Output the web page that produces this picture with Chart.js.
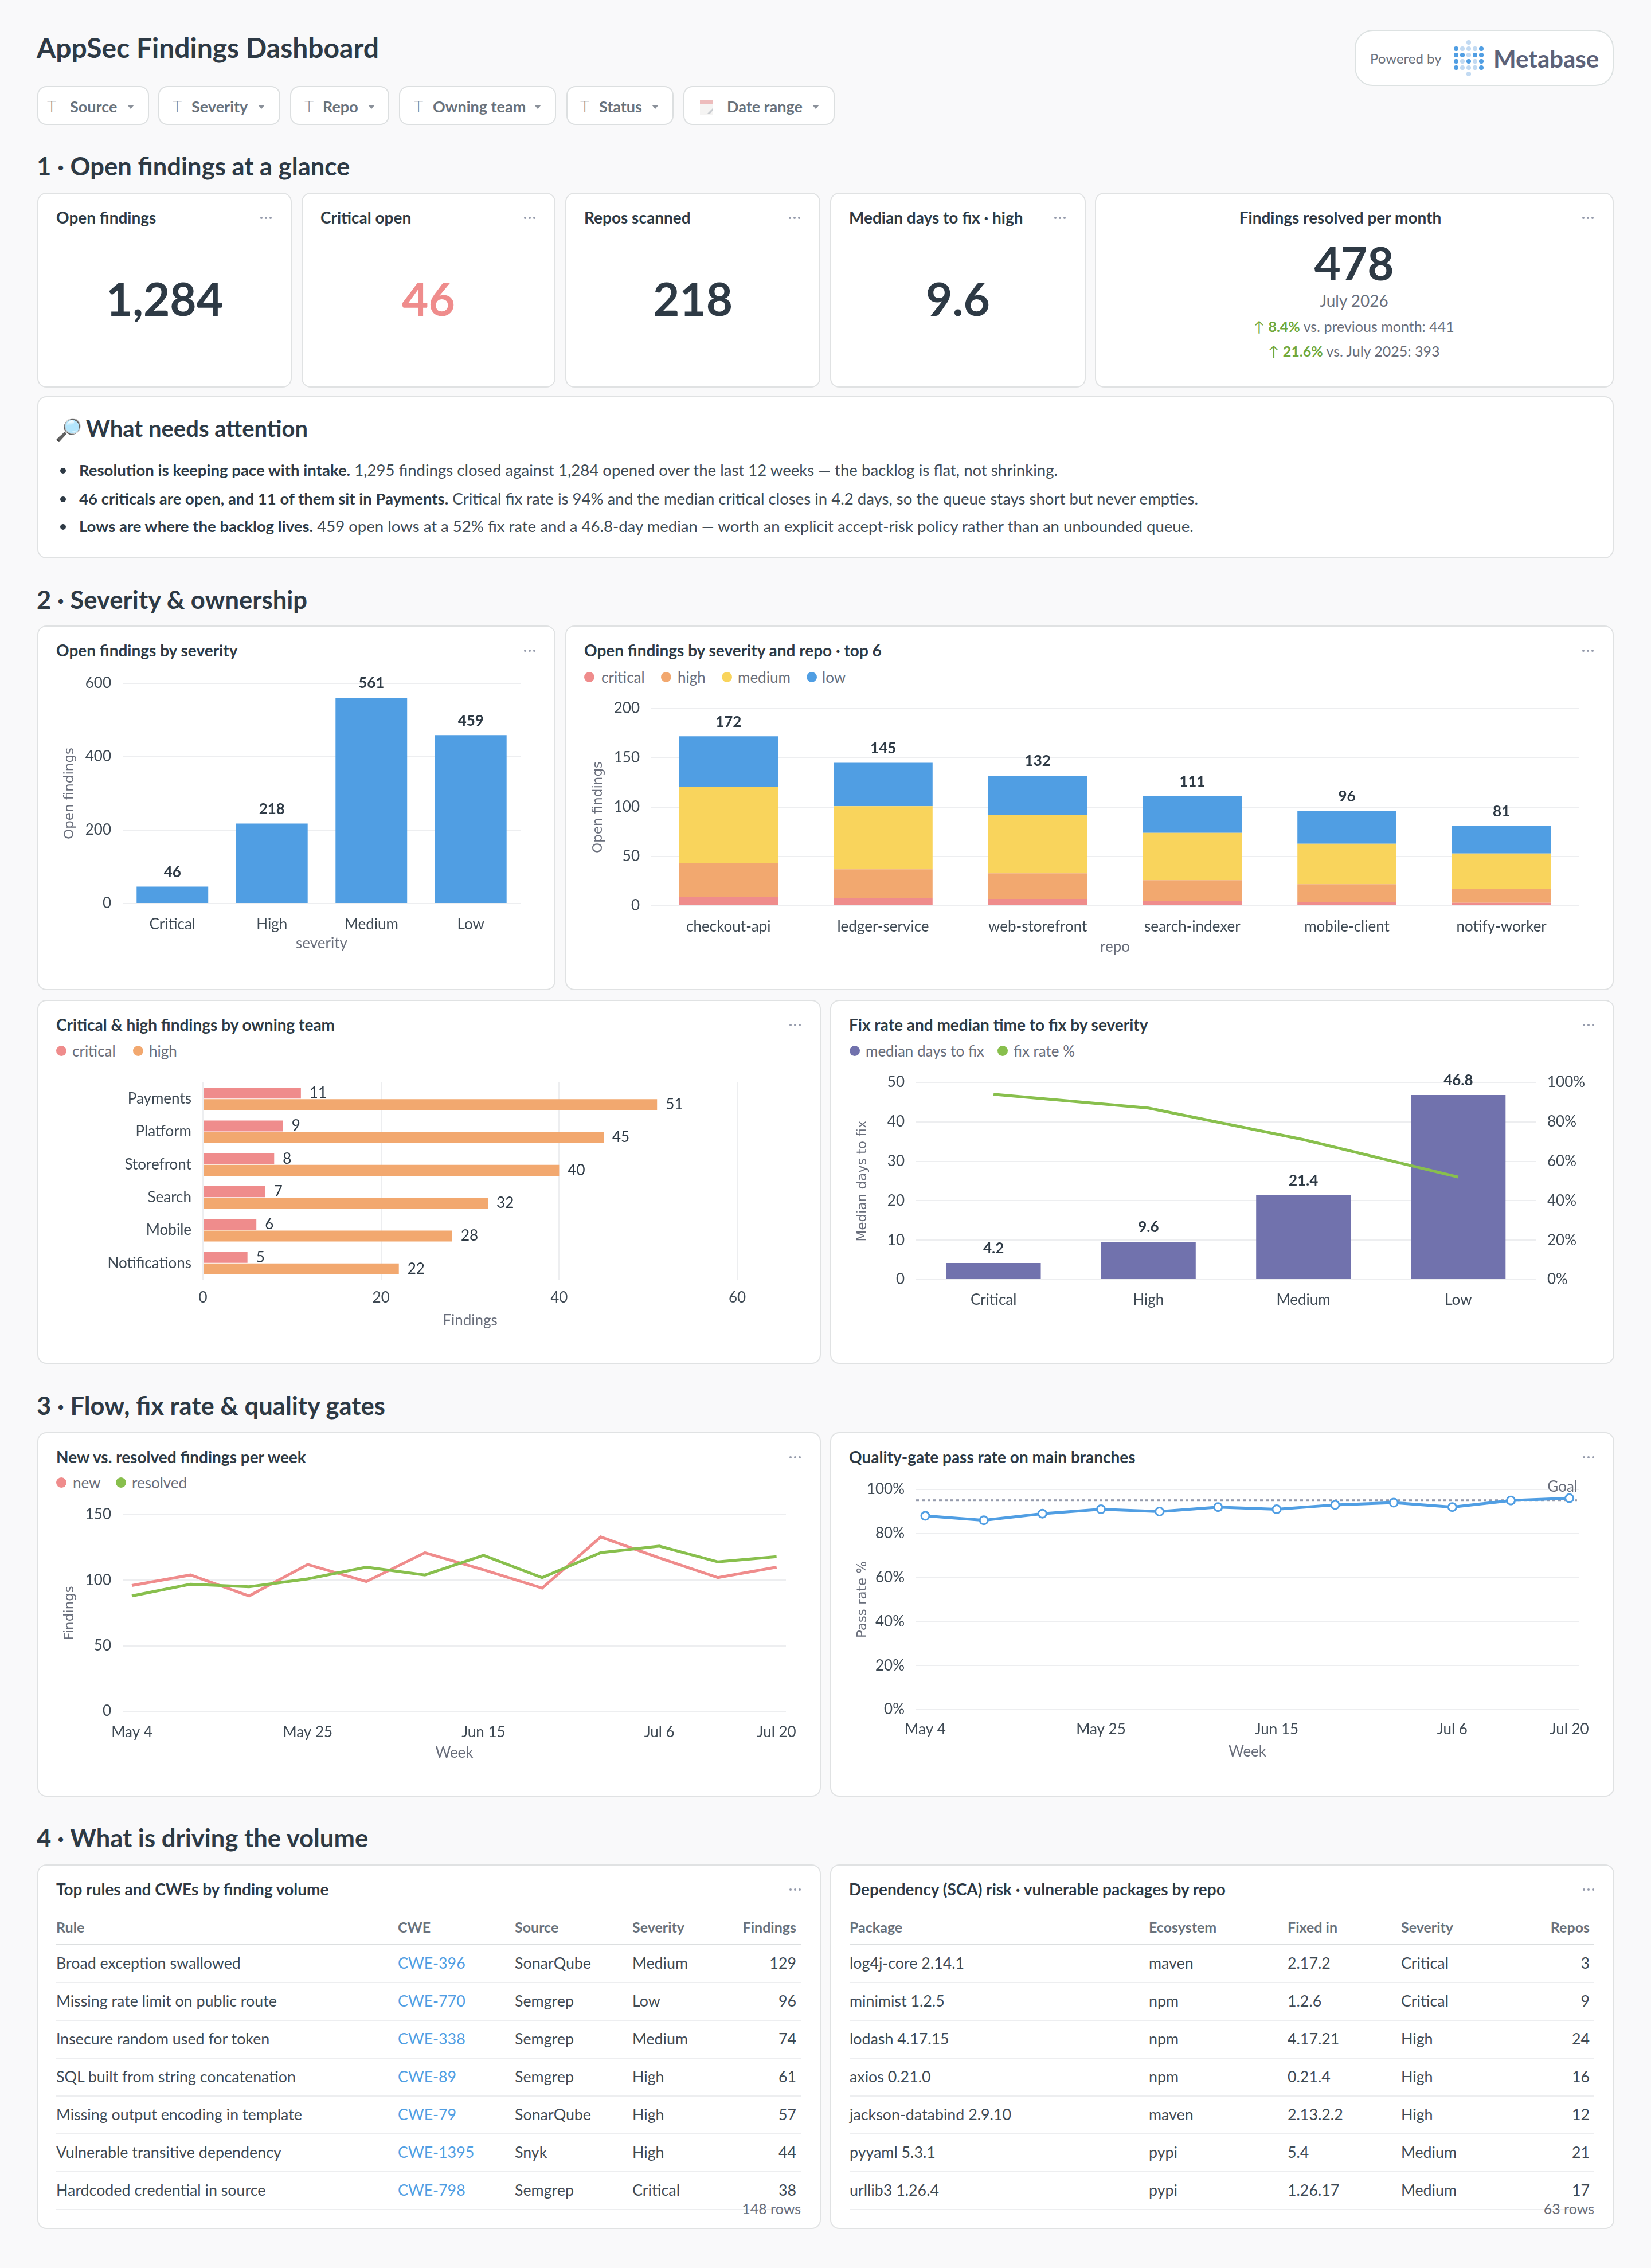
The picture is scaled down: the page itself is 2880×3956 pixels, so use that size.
<!DOCTYPE html>
<html>
<head>
<meta charset="utf-8">
<title>AppSec Findings Dashboard</title>
<script src="https://cdn.jsdelivr.net/npm/chart.js@4"></script>
<style>
html,body{margin:0;padding:0;background:#F9F9FA;}
#page{position:relative;width:2880px;height:3956px;overflow:hidden;font-family:Lato,sans-serif;color:#2E3A45;}
.t{position:absolute;white-space:nowrap;line-height:1;}
.card{position:absolute;box-sizing:border-box;background:#fff;border:2px solid #E0E2E3;border-radius:16px;}
.dot{position:absolute;border-radius:50%;}
canvas{position:absolute;}
</style>
</head>
<body>
<div id="page"></div>
<script>
const severities = ["Critical", "High", "Medium", "Low"];
const openBySeverity = [46, 218, 561, 459];

const repos = ["checkout-api", "ledger-service", "web-storefront", "search-indexer", "mobile-client", "notify-worker"];
const repoCritical = [9, 8, 7, 5, 4, 3];
const repoHigh = [34, 29, 26, 21, 18, 14];
const repoMedium = [78, 64, 59, 48, 41, 36];
const repoLow = [51, 44, 40, 37, 33, 28];
const repoTotals = [172, 145, 132, 111, 96, 81];

const teams = ["Payments", "Platform", "Storefront", "Search", "Mobile", "Notifications"];
const teamCritical = [11, 9, 8, 7, 6, 5];
const teamHigh = [51, 45, 40, 32, 28, 22];

const medianDays = [4.2, 9.6, 21.4, 46.8];
const fixRate = [94, 87, 71, 52];

const weeks = ["May 4", "May 11", "May 18", "May 25", "Jun 1", "Jun 8", "Jun 15", "Jun 22", "Jun 29", "Jul 6", "Jul 13", "Jul 20"];
const weekTicks = [0, 3, 6, 9, 11];
const newPerWeek = [96, 104, 88, 112, 99, 121, 108, 94, 133, 117, 102, 110];
const resolvedPerWeek = [88, 97, 95, 101, 110, 104, 119, 102, 121, 126, 114, 118];
const passRate = [88, 86, 89, 91, 90, 92, 91, 93, 94, 92, 95, 96];
const passGoal = 95;

const rulesHead = ["Rule", "CWE", "Source", "Severity", "Findings"];
const rulesRows = [
  ["Broad exception swallowed", "CWE-396", "SonarQube", "Medium", "129"],
  ["Missing rate limit on public route", "CWE-770", "Semgrep", "Low", "96"],
  ["Insecure random used for token", "CWE-338", "Semgrep", "Medium", "74"],
  ["SQL built from string concatenation", "CWE-89", "Semgrep", "High", "61"],
  ["Missing output encoding in template", "CWE-79", "SonarQube", "High", "57"],
  ["Vulnerable transitive dependency", "CWE-1395", "Snyk", "High", "44"],
  ["Hardcoded credential in source", "CWE-798", "Semgrep", "Critical", "38"]
];
const scaHead = ["Package", "Ecosystem", "Fixed in", "Severity", "Repos"];
const scaRows = [
  ["log4j-core 2.14.1", "maven", "2.17.2", "Critical", "3"],
  ["minimist 1.2.5", "npm", "1.2.6", "Critical", "9"],
  ["lodash 4.17.15", "npm", "4.17.21", "High", "24"],
  ["axios 0.21.0", "npm", "0.21.4", "High", "16"],
  ["jackson-databind 2.9.10", "maven", "2.13.2.2", "High", "12"],
  ["pyyaml 5.3.1", "pypi", "5.4", "Medium", "21"],
  ["urllib3 1.26.4", "pypi", "1.26.17", "Medium", "17"]
];

const RED = "#EF8C8C", ORANGE = "#F2A86F", YELLOW = "#F9D45C", BLUE = "#509EE3", PURPLE = "#7172AD", GREEN = "#88BF4D";
const INK = "#2E3A45", TICK = "#3F4A54", MUTED = "#696E7B", GRID = "#EDEEF0";
const page = document.getElementById("page");

// text helper: x is the anchor, y is the vertical middle
function put(html, x, y, css, align) {
  const el = document.createElement("div");
  el.className = "t";
  el.innerHTML = html;
  el.style.cssText = `left:${x}px;top:${y}px;transform:translate(${align === "c" ? "-50%" : align === "r" ? "-100%" : "0"},-50%);${css || ""}`;
  page.appendChild(el);
  return el;
}
function circle(cx, cy, r, color) {
  const el = document.createElement("div");
  el.className = "dot";
  el.style.cssText = `left:${cx - r}px;top:${cy - r}px;width:${2 * r}px;height:${2 * r}px;background:${color};`;
  page.appendChild(el);
}
function card(box, title, titleX) {
  const el = document.createElement("div");
  el.className = "card";
  el.style.cssText = `left:${box[0] - 1}px;top:${box[1] - 1}px;width:${box[2] - box[0] + 2}px;height:${box[3] - box[1] + 2}px;`;
  page.appendChild(el);
  if (title) put(title, titleX === undefined ? box[0] + 32 : titleX, box[1] + 42, "font-size:28px;font-weight:700;", titleX === undefined ? "" : "c");
  [-8, 0, 8].forEach(d => circle(box[2] - 44 + d, box[1] + 43, 2, "#949AAB"));
}
function legend(y, items) {
  items.forEach(it => {
    circle(it[1], y, 9, it[2]);
    put(it[0], it[3], y, `font-size:26px;color:${MUTED};`);
  });
}

/* ---- header ---- */
put("AppSec Findings Dashboard", 64, 83, "font-size:48px;font-weight:700;");
const pills = [
  ["Source", 66, 259, 90, 122, 228], ["Severity", 277, 488, 309, 334, 456], ["Repo", 507, 678, 539, 563, 648],
  ["Owning team", 697, 969, 730, 755, 938], ["Status", 989, 1174, 1020, 1045, 1143], ["Date range", 1193, 1455, 0, 1268, 1423]
];
pills.forEach(p => {
  const el = document.createElement("div");
  el.style.cssText = `position:absolute;box-sizing:border-box;left:${p[1] - 1}px;top:150px;width:${p[2] - p[1] + 2}px;height:68px;background:#fff;border:2px solid #DCDFE0;border-radius:16px;`;
  page.appendChild(el);
  if (p[3]) put("T", p[3], 185, "font-size:28px;font-weight:300;color:#7F868E;", "c");
  put(p[0], p[4], 185, "font-size:27px;font-weight:700;color:#69727C;");
  const caret = document.createElement("div");
  caret.style.cssText = `position:absolute;left:${p[5] - 6}px;top:183px;width:0;height:0;border-left:6px solid transparent;border-right:6px solid transparent;border-top:7px solid #8A9099;`;
  page.appendChild(caret);
});
// calendar glyph of the date filter
const cal = document.createElement("div");
cal.innerHTML = `<svg width="24" height="28" style="position:absolute;left:1221px;top:172px"><rect x="0" y="2" width="23" height="26" fill="#F5F4F3"/><rect x="0" y="3" width="23" height="6" fill="#EDBCBC"/><path d="M12 27 L22 17 L22 21 L17 27 Z" fill="#C9CCD0"/></svg>`;
page.appendChild(cal);

const powered = document.createElement("div");
powered.style.cssText = "position:absolute;box-sizing:border-box;left:2363px;top:52px;width:452px;height:98px;background:#fff;border:2px solid #DDE2E2;border-radius:32px;";
page.appendChild(powered);
put("Powered by", 2390, 102, "font-size:24px;color:#69707C;");
const logoX = [2540, 2551, 2562, 2573, 2584], logoY = [85, 96, 107, 118];
const logoDark = [[1,0,0,0,1],[1,1,0,1,1],[1,0,1,0,1],[1,0,0,0,1]];
logoY.forEach((y, r) => logoX.forEach((x, c) => circle(x, y, 3.7, logoDark[r][c] ? BLUE : "#C2DAF2")));
circle(2562, 74, 3.7, "#C2DAF2");
circle(2562, 129, 3.7, "#C2DAF2");
put("Metabase", 2605, 102, "font-size:42px;font-weight:700;color:#5C6279;");

/* ---- section 1 ---- */
const SECTION = "font-size:43.6px;font-weight:700;";
put("1 · Open findings at a glance", 64, 290, SECTION);
const kpis = [
  ["Open findings", "1,284", [66, 337, 508, 675], INK],
  ["Critical open", "46", [527, 337, 968, 675], RED],
  ["Repos scanned", "218", [987, 337, 1430, 675], INK],
  ["Median days to fix · high", "9.6", [1449, 337, 1893, 675], INK]
];
kpis.forEach(k => {
  card(k[2], k[0]);
  put(k[1], (k[2][0] + k[2][2]) / 2, 520, `font-size:80px;font-weight:700;color:${k[3]};`, "c");
});
card([1911, 337, 2814, 675], "Findings resolved per month", 2338);
put("478", 2362, 458, "font-size:80px;font-weight:700;", "c");
put("July 2026", 2362, 524, `font-size:28px;color:${MUTED};`, "c");
put(`<span style="color:#6FA83A;">↑ <b>8.4%</b></span> vs. previous month: 441`, 2362, 569, `font-size:25px;color:${MUTED};`, "c");
put(`<span style="color:#6FA83A;">↑ <b>21.6%</b></span> vs. July 2025: 393`, 2362, 612, `font-size:25px;color:${MUTED};`, "c");

const attn = document.createElement("div");
attn.className = "card";
attn.style.cssText = "left:65px;top:691px;width:2750px;height:283px;";
page.appendChild(attn);
put("🔎", 96, 748, "font-size:38px;");
put("What needs attention", 150, 747, "font-size:40px;font-weight:700;");
const notes = [
  ["Resolution is keeping pace with intake.", " 1,295 findings closed against 1,284 opened over the last 12 weeks — the backlog is flat, not shrinking.", 820],
  ["46 criticals are open, and 11 of them sit in Payments.", " Critical fix rate is 94% and the median critical closes in 4.2 days, so the queue stays short but never empties.", 870],
  ["Lows are where the backlog lives.", " 459 open lows at a 52% fix rate and a 46.8-day median — worth an explicit accept-risk policy rather than an unbounded queue.", 918]
];
notes.forEach(n => {
  circle(110, n[2] + 1, 5, INK);
  put(`<b>${n[0]}</b><span style="color:#414C55;">${n[1]}</span>`, 138, n[2], "font-size:27.55px;");
});

/* ---- charts ---- */
const tickFont = { family: "Lato", size: 26 };
const yTitleFont = { family: "DejaVu Sans", size: 23 };
const xTitleFont = { family: "Lato", size: 26 };

// draws value labels from the drawn elements
const valueLabels = {
  id: "valueLabels",
  afterDatasetsDraw(chart, args, opts) {
    if (!opts.sets) return;
    const ctx = chart.ctx;
    ctx.save();
    ctx.fillStyle = INK;
    ctx.textBaseline = "middle";
    opts.sets.forEach(set => {
      chart.getDatasetMeta(set.index).data.forEach((el, i) => {
        const txt = String(set.values[i]);
        if (opts.horizontal) {
          ctx.font = "400 26px Lato";
          ctx.textAlign = "left";
          ctx.fillText(txt, el.x + 15, el.y);
        } else {
          ctx.font = "700 26px Lato";
          ctx.textAlign = "center";
          ctx.fillText(txt, el.x, el.y - 25);
        }
      });
    });
    ctx.restore();
  }
};
Chart.register(valueLabels);
Chart.defaults.font.family = "Lato";
Chart.defaults.animation = false;

function makeChart(box, plot, cfg) {
  const c = document.createElement("canvas");
  const w = box[2] - box[0], h = box[3] - box[1];
  c.width = w; c.height = h;
  c.style.cssText = `left:${box[0]}px;top:${box[1]}px;width:${w}px;height:${h}px;`;
  page.appendChild(c);
  const scales = cfg.options.scales;
  let hasRight = false;
  Object.values(scales).forEach(s => {
    if (s.position === "right") {
      hasRight = true;
      s.afterFit = a => { a.width = box[2] - plot[2]; };
    } else if (s.position === "left") {
      s.afterFit = a => { a.width = plot[0] - box[0]; };
    } else {
      s.afterFit = a => { a.height = box[3] - plot[3]; };
    }
  });
  cfg.options.responsive = false;
  cfg.options.devicePixelRatio = 1;
  cfg.options.layout = { autoPadding: false, padding: { left: 0, top: plot[1] - box[1], right: hasRight ? 0 : box[2] - plot[2], bottom: 0 } };
  cfg.options.plugins = Object.assign({ legend: { display: false }, tooltip: { enabled: false } }, cfg.options.plugins);
  return new Chart(c.getContext("2d"), cfg);
}
function yAxis(box, titleCx, text, min, max, step, extra) {
  return Object.assign({
    position: "left", min, max,
    grid: { color: GRID, lineWidth: 2, drawTicks: false },
    border: { display: false },
    ticks: { stepSize: step, padding: 20, color: TICK, font: tickFont },
    title: text ? { display: true, text, color: MUTED, font: yTitleFont, padding: { top: titleCx - box[0] - 11, bottom: 0 } } : { display: false }
  }, extra || {});
}
function xCat(text, bottomPad, tickPad) {
  return {
    position: "bottom",
    grid: { display: false, drawTicks: false },
    border: { display: false },
    ticks: { padding: tickPad, color: TICK, font: tickFont, maxRotation: 0, autoSkip: false },
    title: text ? { display: true, text, color: MUTED, font: xTitleFont, padding: { top: 0, bottom: bottomPad } } : { display: false }
  };
}
function xWeeks(bottomPad, tickPad) {
  return {
    type: "linear", position: "bottom", min: -0.157, max: 11.16,
    afterBuildTicks: a => { a.ticks = weekTicks.map(v => ({ value: v })); },
    grid: { display: false, drawTicks: false },
    border: { display: false },
    ticks: { padding: tickPad, color: TICK, font: tickFont, maxRotation: 0, callback: v => weeks[v] },
    title: { display: true, text: "Week", color: MUTED, font: xTitleFont, padding: { top: 0, bottom: bottomPad } }
  };
}
const points = arr => arr.map((v, i) => ({ x: i, y: v }));

/* ---- section 2 ---- */
put("2 · Severity &amp; ownership", 64, 1046, SECTION);

const boxA = [66, 1092, 968, 1726];
card(boxA, "Open findings by severity");
makeChart(boxA, [214, 1192, 908, 1576], {
  type: "bar",
  data: { labels: severities, datasets: [{ data: openBySeverity, backgroundColor: BLUE, categoryPercentage: 0.72, barPercentage: 1 }] },
  options: {
    scales: { x: xCat("severity", 65, 21), y: yAxis(boxA, 119, "Open findings", 0, 600, 200) },
    plugins: { valueLabels: { sets: [{ index: 0, values: openBySeverity }] } }
  }
});

const boxB = [987, 1092, 2814, 1726];
card(boxB, "Open findings by severity and repo · top 6");
legend(1181, [["critical", 1028, RED, 1049], ["high", 1162, ORANGE, 1182], ["medium", 1268, YELLOW, 1287], ["low", 1416, BLUE, 1434]]);
const stackSet = (data, color) => ({ data, backgroundColor: color, stack: "s", categoryPercentage: 0.64, barPercentage: 1 });
const yB = yAxis(boxB, 1041, "Open findings", 0, 200, 50, { stacked: true });
const xB = xCat("repo", 59, 21);
xB.stacked = true;
makeChart(boxB, [1136, 1236, 2754, 1580], {
  type: "bar",
  data: { labels: repos, datasets: [stackSet(repoCritical, RED), stackSet(repoHigh, ORANGE), stackSet(repoMedium, YELLOW), stackSet(repoLow, BLUE)] },
  options: {
    scales: { x: xB, y: yB },
    plugins: { valueLabels: { sets: [{ index: 3, values: repoTotals }] } }
  }
});

const boxC = [66, 1745, 1431, 2378];
card(boxC, "Critical &amp; high findings by owning team");
legend(1833, [["critical", 107, RED, 126], ["high", 241, ORANGE, 260]]);
const barC = (data, color) => ({ data, backgroundColor: color, categoryPercentage: 0.7, barPercentage: 0.95 });
makeChart(boxC, [354, 1888, 1286, 2232], {
  type: "bar",
  data: { labels: teams, datasets: [barC(teamCritical, RED), barC(teamHigh, ORANGE)] },
  options: {
    indexAxis: "y",
    scales: {
      x: {
        position: "bottom", min: 0, max: 60,
        grid: { color: GRID, lineWidth: 2, drawTicks: false },
        border: { display: false },
        ticks: { stepSize: 20, padding: 16, color: TICK, font: tickFont },
        title: { display: true, text: "Findings", color: MUTED, font: xTitleFont, padding: { top: 0, bottom: 59 } }
      },
      y: { position: "left", grid: { display: false, drawTicks: false }, border: { display: false }, ticks: { padding: 20, color: TICK, font: tickFont } }
    },
    plugins: { valueLabels: { horizontal: true, sets: [{ index: 0, values: teamCritical }, { index: 1, values: teamHigh }] } }
  }
});

const boxD = [1449, 1745, 2815, 2378];
card(boxD, "Fix rate and median time to fix by severity");
legend(1833, [["median days to fix", 1491, PURPLE, 1510], ["fix rate %", 1749, GREEN, 1768]]);
makeChart(boxD, [1598, 1888, 2679, 2232], {
  type: "bar",
  data: {
    labels: severities,
    datasets: [
      { type: "line", data: fixRate, yAxisID: "y2", borderColor: GREEN, borderWidth: 5, pointRadius: 0, tension: 0, order: 1 },
      { data: medianDays, yAxisID: "y", backgroundColor: PURPLE, categoryPercentage: 0.61, barPercentage: 1, order: 2 }
    ]
  },
  options: {
    scales: {
      x: xCat(null, 0, 20),
      y: yAxis(boxD, 1502, "Median days to fix", 0, 50, 10),
      y2: {
        position: "right", min: 0, max: 100,
        grid: { display: false, drawTicks: false },
        border: { display: false },
        ticks: { stepSize: 20, padding: 20, color: TICK, font: tickFont, callback: v => v + "%" }
      }
    },
    plugins: { valueLabels: { sets: [{ index: 1, values: medianDays }] } }
  }
});

/* ---- section 3 ---- */
put("3 · Flow, fix rate &amp; quality gates", 64, 2452, SECTION);

const boxE = [66, 2499, 1431, 3133];
card(boxE, "New vs. resolved findings per week");
legend(2586, [["new", 107, RED, 127], ["resolved", 211, GREEN, 230]]);
makeChart(boxE, [214, 2642, 1371, 2985], {
  type: "line",
  data: {
    datasets: [
      { data: points(newPerWeek), borderColor: RED, borderWidth: 5, pointRadius: 0, tension: 0, order: 2 },
      { data: points(resolvedPerWeek), borderColor: GREEN, borderWidth: 5, pointRadius: 0, tension: 0, order: 1 }
    ]
  },
  options: { scales: { x: xWeeks(60, 21), y: yAxis(boxE, 119, "Findings", 0, 150, 50) } }
});

const boxF = [1449, 2499, 2815, 3133];
card(boxF, "Quality-gate pass rate on main branches");
makeChart(boxF, [1598, 2598, 2754, 2982], {
  type: "line",
  data: {
    datasets: [
      { data: [{ x: -0.157, y: passGoal }, { x: 11.13, y: passGoal }], borderColor: "#949AAB", borderWidth: 4, borderDash: [5, 5], pointRadius: 0, tension: 0, order: 2 },
      { data: points(passRate), borderColor: BLUE, borderWidth: 5, tension: 0, pointRadius: 7, pointBackgroundColor: "#fff", pointBorderColor: BLUE, pointBorderWidth: 3, order: 1 }
    ]
  },
  options: {
    scales: {
      x: xWeeks(62, 19),
      y: yAxis(boxF, 1502, "Pass rate %", 0, 100, 20, { ticks: { stepSize: 20, padding: 20, color: TICK, font: tickFont, callback: v => v + "%" } })
    }
  }
});
put("Goal", 2752, 2592, `font-size:26px;color:${MUTED};`, "r");

/* ---- section 4 ---- */
put("4 · What is driving the volume", 64, 3206, SECTION);

function table(box, title, head, rows, colX, rightEdge, lineEnd, rowsLabel, linkCol) {
  card(box, title);
  const x0 = colX[0];
  const headY = 3361;
  head.forEach((h, i) => {
    const last = i === head.length - 1;
    put(h, last ? rightEdge : colX[i], headY, "font-size:25px;font-weight:700;color:#69727C;", last ? "r" : "");
  });
  const rule = (y, color, hgt) => {
    const el = document.createElement("div");
    el.style.cssText = `position:absolute;left:${x0}px;top:${y}px;width:${lineEnd - x0}px;height:${hgt}px;background:${color};`;
    page.appendChild(el);
  };
  rule(3390, "#DCDFE0", 3);
  rows.forEach((r, ri) => {
    const y = 3424 + ri * 66;
    r.forEach((v, i) => {
      const last = i === r.length - 1;
      const color = i === linkCol ? BLUE : "#3F4A54";
      put(v, last ? rightEdge : colX[i], y, `font-size:26.8px;color:${color};`, last ? "r" : "");
    });
    rule(y + 33, "#EDEEF0", 2);
  });
  put(rowsLabel, lineEnd, 3852, `font-size:25px;color:${MUTED};`, "r");
}
table([66, 3253, 1431, 3887], "Top rules and CWEs by finding volume", rulesHead, rulesRows, [98, 694, 898, 1103], 1389, 1397, "148 rows", 1);
table([1449, 3253, 2815, 3887], "Dependency (SCA) risk · vulnerable packages by repo", scaHead, scaRows, [1482, 2004, 2246, 2444], 2773, 2781, "63 rows", -1);
</script>
</body>
</html>
